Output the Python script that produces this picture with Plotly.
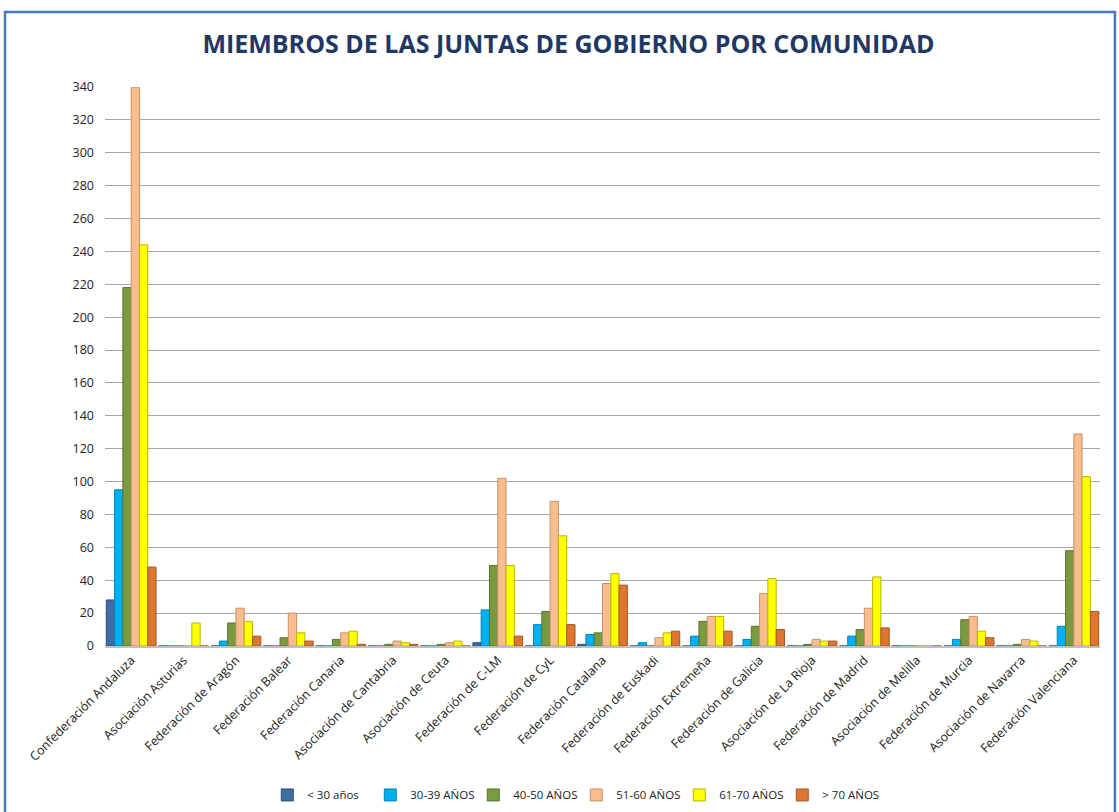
import plotly.graph_objects as go

categories = [
    "Confederación Andaluza", "Asociación Asturias", "Federación de Aragón",
    "Federación Balear", "Federación Canaria", "Asociación de Cantabria",
    "Asociación de Ceuta", "Federación de C-LM", "Federación de CyL",
    "Federación Catalana", "Federación de Euskadi", "Federación Extremeña",
    "Federación de Galicia", "Asociación de La Rioja", "Federación de Madrid",
    "Asociación de Melilla", "Federación de Murcia", "Asociación de Navarra",
    "Federación Valenciana",
]

menos_30 = [28, 0, 0, 0, 0, 0, 0, 2, 0, 1, 0, 0, 0, 0, 0, 0, 0, 0, 0]
a_30_39 = [95, 0, 3, 0, 0, 0, 0, 22, 13, 7, 2, 6, 4, 0, 6, 0, 4, 0, 12]
a_40_50 = [218, 0, 14, 5, 4, 1, 1, 49, 21, 8, 0, 15, 12, 1, 10, 0, 16, 1, 58]
a_51_60 = [340, 0, 23, 20, 8, 3, 2, 102, 88, 38, 5, 18, 32, 4, 23, 0, 18, 4, 129]
a_61_70 = [244, 14, 15, 8, 9, 2, 3, 49, 67, 44, 8, 18, 41, 3, 42, 0, 9, 3, 103]
mas_70 = [48, 0, 6, 3, 1, 1, 0, 6, 13, 37, 9, 9, 10, 3, 11, 0, 5, 0, 21]

series_names = ["< 30 años", "30-39 AÑOS", "40-50 AÑOS", "51-60 AÑOS", "61-70 AÑOS", "> 70 AÑOS"]
series_values = [menos_30, a_30_39, a_40_50, a_51_60, a_61_70, mas_70]
colors = ["#3E6DA6", "#00B0F0", "#7A9A3F", "#F9BE8E", "#FFFF00", "#DC7631"]
edge_colors = ["#2B4E78", "#0085B5", "#5A7330", "#C9906A", "#B5B500", "#A65623"]

fig = go.Figure()
for name, vals, c, e in zip(series_names, series_values, colors, edge_colors):
    fig.add_trace(go.Bar(
        x=categories, y=vals, name=name,
        marker=dict(color=c, line=dict(color=e, width=1)),
    ))

T, B = 87, 166
H = 812 - T - B

fig.update_layout(
    width=1119, height=812,
    paper_bgcolor="white", plot_bgcolor="white",
    barmode="group", bargap=0.05, bargroupgap=0,
    margin=dict(l=105, r=19, t=T, b=B, autoexpand=False),
    title=dict(
        text="<b>MIEMBROS DE LAS JUNTAS DE GOBIERNO POR COMUNIDAD</b>",
        x=0.508, xanchor="center", y=0.945, yanchor="middle",
        font=dict(family="'Open Sans', sans-serif", size=25, color="#1F3864"),
    ),
    font=dict(family="'Open Sans', sans-serif", size=12, color="#222222"),
    legend=dict(
        orientation="h", x=0.515, xanchor="center", xref="container",
        y=0.021, yanchor="middle", yref="container",
        font=dict(size=11.5, color="#222"), itemwidth=30, traceorder="normal",
        tracegroupgap=0, entrywidth=58,
    ),
    xaxis=dict(
        tickangle=-45, showgrid=False, showline=True, linecolor="#BFBFBF", linewidth=2,
        tickfont=dict(size=12.5, color="#222"), ticks="",
    ),
    yaxis=dict(
        range=[0, 340], tick0=0, dtick=20, showgrid=True, gridcolor="#A6A6A6", gridwidth=1,
        zeroline=False, showline=False, tickfont=dict(size=12.5, color="#222"),
        ticks="", ticklabelstandoff=10,
    ),
    shapes=[dict(
        type="rect", xref="paper", yref="paper",
        x0=-0.1005, x1=1.015, y0=(646 - 815) / H, y1=(646 - 12) / H,
        line=dict(color="#4A78C0", width=2.5), fillcolor="rgba(0,0,0,0)", layer="below",
    )],
)

fig.write_html(
    "out.html",
    config={"displayModeBar": False},
    post_script="document.body.style.margin='0px';document.body.style.overflow='hidden';",
)
